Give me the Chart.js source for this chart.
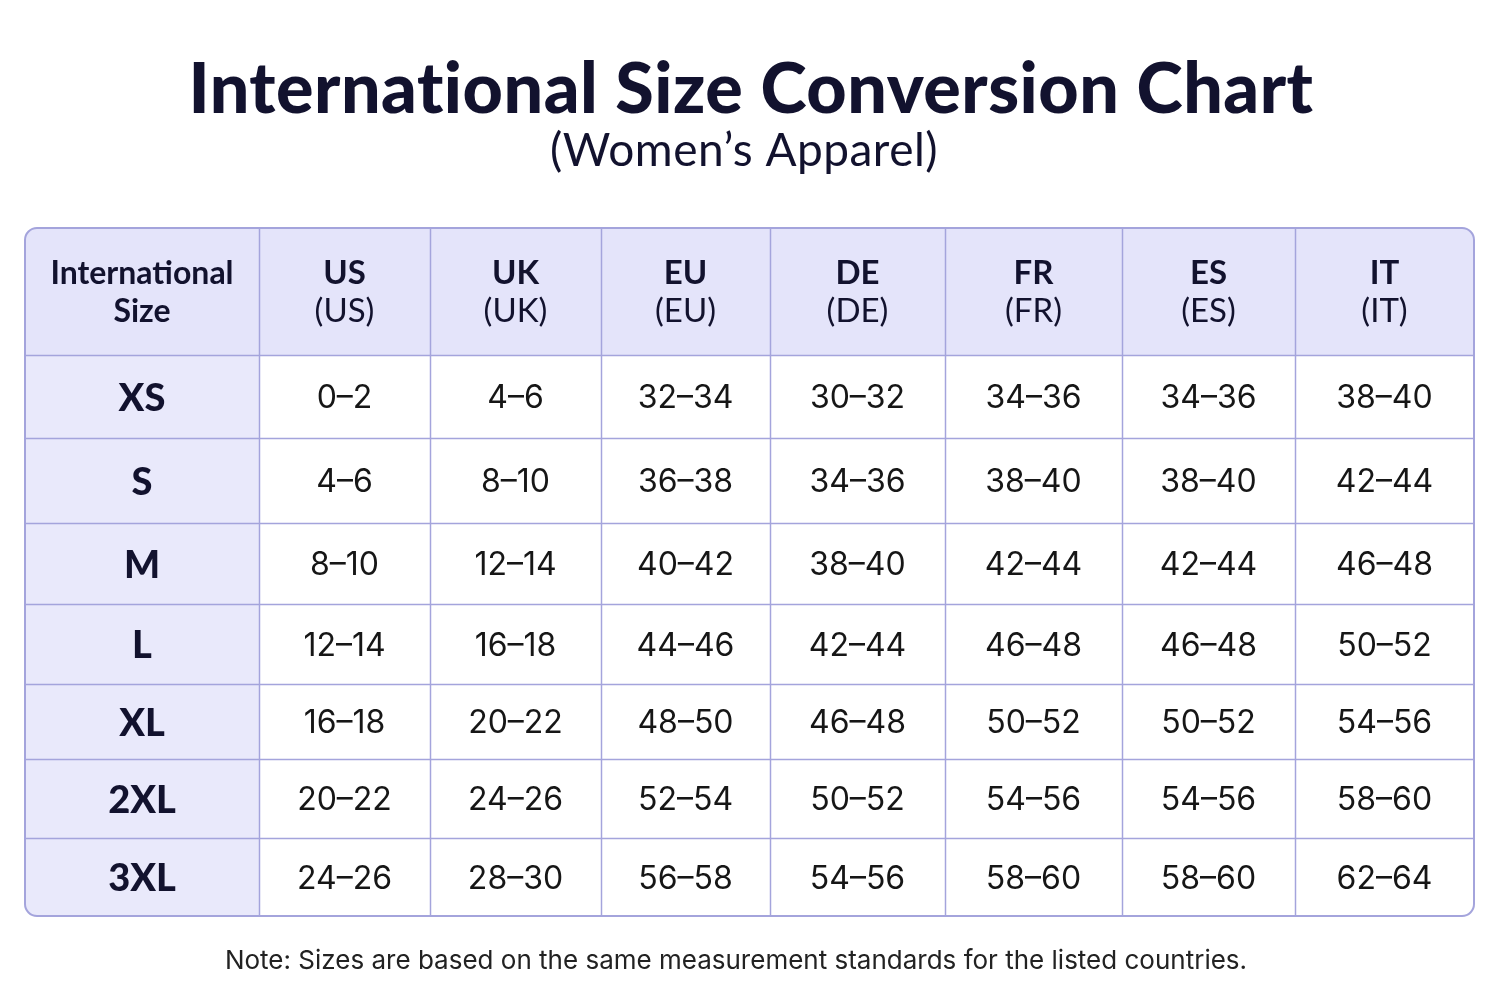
<!DOCTYPE html>
<html>
<head>
<meta charset="utf-8">
<title>International Size Conversion Chart</title>
<script src="https://cdn.jsdelivr.net/npm/chart.js@4.4.1/dist/chart.umd.min.js"></script>
<style>
    html, body { margin: 0; padding: 0; background: #ffffff; }
    #sizeChart { display: block; }
</style>
</head>
<body>
<canvas id="sizeChart" width="1500" height="1000"></canvas>
<script>
// Table data
const columns = ['US', 'UK', 'EU', 'DE', 'FR', 'ES', 'IT'];
const sizes = ['XS', 'S', 'M', 'L', 'XL', '2XL', '3XL'];
const usSizes = ['0–2', '4–6', '8–10', '12–14', '16–18', '20–22', '24–26'];
const ukSizes = ['4–6', '8–10', '12–14', '16–18', '20–22', '24–26', '28–30'];
const euSizes = ['32–34', '36–38', '40–42', '44–46', '48–50', '52–54', '56–58'];
const deSizes = ['30–32', '34–36', '38–40', '42–44', '46–48', '50–52', '54–56'];
const frSizes = ['34–36', '38–40', '42–44', '46–48', '50–52', '54–56', '58–60'];
const esSizes = ['34–36', '38–40', '42–44', '46–48', '50–52', '54–56', '58–60'];
const itSizes = ['38–40', '42–44', '46–48', '50–52', '54–56', '58–60', '62–64'];
const values = [usSizes, ukSizes, euSizes, deSizes, frSizes, esSizes, itSizes];

const title = 'International Size Conversion Chart';
const subtitle = '(Women’s Apparel)';
const note = 'Note: Sizes are based on the same measurement standards for the listed countries.';

// Layout / style (relative column widths and row heights of the grid)
const colWeights = [234, 171, 171, 169, 175, 177, 173, 179];
const rowWeights = [127, 83, 85, 81, 80, 75, 79, 78];
const lineColor = '#a4a4dc';
const headerBg = '#e4e4fa';
const sideBg = '#e9e9fb';
const ink = '#12122e';

const colEdges = [0];
colWeights.forEach(w => colEdges.push(colEdges[colEdges.length - 1] + w));
const rowEdges = [0];
rowWeights.forEach(h => rowEdges.push(rowEdges[rowEdges.length - 1] + h));
const xMax = colEdges[colEdges.length - 1];
const yMax = rowEdges[rowEdges.length - 1];

// one invisible point per body cell, centred in its cell
const cellPoints = [];
values.forEach((col, c) => {
    col.forEach((v, r) => {
        cellPoints.push({
            x: (colEdges[c + 1] + colEdges[c + 2]) / 2,
            y: (rowEdges[r + 1] + rowEdges[r + 2]) / 2,
            label: v
        });
    });
});

function roundRectPath(ctx, x, y, w, h, r) {
    ctx.beginPath();
    ctx.moveTo(x + r, y);
    ctx.lineTo(x + w - r, y);
    ctx.arcTo(x + w, y, x + w, y + r, r);
    ctx.lineTo(x + w, y + h - r);
    ctx.arcTo(x + w, y + h, x + w - r, y + h, r);
    ctx.lineTo(x + r, y + h);
    ctx.arcTo(x, y + h, x, y + h - r, r);
    ctx.lineTo(x, y + r);
    ctx.arcTo(x, y, x + r, y, r);
    ctx.closePath();
}

const tablePlugin = {
    id: 'sizeTable',
    beforeDatasetsDraw(chart) {
        const { ctx, scales: { x, y } } = chart;
        const px = v => x.getPixelForValue(v);
        const py = v => y.getPixelForValue(v);
        const left = px(0), right = px(xMax), top = py(0), bottom = py(yMax);
        const radius = 12;

        ctx.save();
        roundRectPath(ctx, left, top, right - left, bottom - top, radius);
        ctx.clip();
        ctx.fillStyle = '#ffffff';
        ctx.fillRect(left, top, right - left, bottom - top);
        // first column background
        ctx.fillStyle = sideBg;
        ctx.fillRect(left, top, px(colEdges[1]) - left, bottom - top);
        // header background
        ctx.fillStyle = headerBg;
        ctx.fillRect(left, top, right - left, py(rowEdges[1]) - top);

        // grid lines
        ctx.strokeStyle = lineColor;
        ctx.lineWidth = 1.5;
        ctx.beginPath();
        colEdges.slice(1, -1).forEach(e => {
            const xx = Math.round(px(e)) + 0.5;
            ctx.moveTo(xx, top);
            ctx.lineTo(xx, bottom);
        });
        rowEdges.slice(1, -1).forEach(e => {
            const yy = Math.round(py(e)) + 0.5;
            ctx.moveTo(left, yy);
            ctx.lineTo(right, yy);
        });
        ctx.stroke();
        ctx.restore();

        // outer border
        ctx.save();
        ctx.strokeStyle = lineColor;
        ctx.lineWidth = 2;
        roundRectPath(ctx, left, top, right - left, bottom - top, radius);
        ctx.stroke();
        ctx.restore();

        // header texts
        ctx.save();
        ctx.textAlign = 'center';
        ctx.textBaseline = 'middle';
        ctx.fillStyle = ink;
        const hMid = py(rowEdges[1] / 2);
        ctx.font = 'bold 32px Lato, "Open Sans", sans-serif';
        ctx.fillText('International', px(colEdges[1] / 2), hMid - 18);
        ctx.fillText('Size', px(colEdges[1] / 2), hMid + 20);
        columns.forEach((c, i) => {
            const cx = px((colEdges[i + 1] + colEdges[i + 2]) / 2);
            ctx.font = 'bold 33px Lato, "Open Sans", sans-serif';
            ctx.fillText(c, cx, hMid - 18);
            ctx.font = '33px Lato, "Open Sans", sans-serif';
            ctx.fillText('(' + c + ')', cx, hMid + 20);
        });
        // size labels
        ctx.font = '900 38px Lato, "Open Sans", sans-serif';
        sizes.forEach((s, r) => {
            ctx.fillText(s, px(colEdges[1] / 2), py((rowEdges[r + 1] + rowEdges[r + 2]) / 2) + 2);
        });
        ctx.restore();
    },
    afterDatasetsDraw(chart) {
        const { ctx } = chart;
        const pts = chart.getDatasetMeta(0).data;
        ctx.save();
        ctx.textAlign = 'center';
        ctx.textBaseline = 'middle';
        ctx.fillStyle = '#161616';
        ctx.font = '32px Inter, Roboto, sans-serif';
        pts.forEach((p, i) => {
            ctx.fillText(cellPoints[i].label, p.x, p.y + 2);
        });

        // title, subtitle, note
        ctx.fillStyle = ink;
        ctx.textBaseline = 'alphabetic';
        ctx.letterSpacing = '0.5px';
        ctx.font = '900 70px Lato, sans-serif';
        ctx.fillText(title, 751, 113);
        ctx.font = '46px Lato, sans-serif';
        ctx.fillText(subtitle, 744, 166);
        ctx.letterSpacing = '0px';
        ctx.fillStyle = '#222222';
        ctx.font = '26px Inter, Roboto, sans-serif';
        ctx.fillText(note, 736, 969);
        ctx.restore();
    }
};

new Chart(document.getElementById('sizeChart'), {
    type: 'scatter',
    data: {
        datasets: [{
            data: cellPoints,
            pointRadius: 0,
            pointHoverRadius: 0
        }]
    },
    options: {
        responsive: false,
        animation: false,
        devicePixelRatio: 1,
        layout: { padding: { left: 25, right: 26, top: 228, bottom: 84 } },
        plugins: { legend: { display: false }, tooltip: { enabled: false }, title: { display: false } },
        scales: {
            x: { type: 'linear', min: 0, max: xMax, display: false },
            y: { type: 'linear', min: 0, max: yMax, reverse: true, display: false }
        }
    },
    plugins: [tablePlugin]
});
</script>
</body>
</html>
